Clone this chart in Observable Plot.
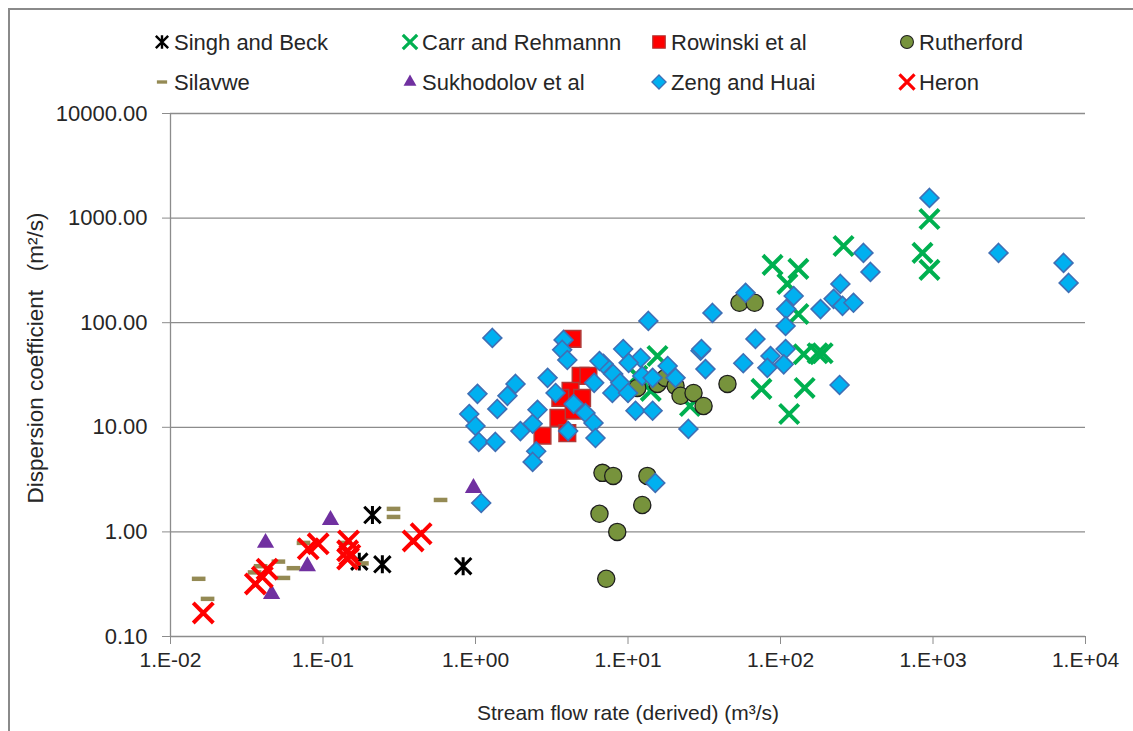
<!DOCTYPE html>
<html><head><meta charset="utf-8">
<script src="https://cdn.jsdelivr.net/npm/d3@7"></script>
<script src="https://cdn.jsdelivr.net/npm/@observablehq/plot@0.6"></script>
<style>
html,body{margin:0;padding:0;background:#fff;overflow:hidden;}
#wrap{position:relative;width:1133px;height:731px;overflow:hidden;}
#frame{position:absolute;left:8px;top:8px;width:1300px;height:900px;border:2px solid #8a8a8a;box-sizing:border-box;}
#chart{position:absolute;left:0;top:0;}
#legend{position:absolute;left:0;top:0;}
</style></head><body>
<div id="wrap"><div id="frame"></div><div id="chart"></div><svg id="legend" width="1133" height="105"></svg></div>
<script>
// ---------------- data ----------------
const xTicks = [0.01, 0.1, 1, 10, 100, 1000, 10000];
const yTicks = [0.1, 1, 10, 100, 1000, 10000];
const xTitle = "Stream flow rate (derived) (m³/s)";
const yTitle = "Dispersion coefficient   (m²/s)";

const seriesNames = ["Singh and Beck", "Carr and Rehmannn", "Rowinski et al", "Rutherford",
                     "Silavwe", "Sukhodolov et al", "Zeng and Huai", "Heron"];

const singhX = [0.173, 0.211, 0.245, 0.83];
const singhY = [0.52, 1.45, 0.49, 0.47];

const carrX = [88.7, 131, 111, 259, 131, 142, 175, 189, 75, 144, 114, 25.5, 15.6, 11.5, 14.1, 948, 853, 948];
const carrY = [357, 327, 235, 542, 121, 50, 51, 51, 23.3, 23.8, 13.4, 16.0, 48, 31, 22.3, 982, 465, 320];

const rowinskiX = [4.33, 4.89, 5.5, 4.2, 5.0, 3.6, 3.5, 2.75, 4.0, 4.4];
const rowinskiY = [70, 31, 31, 22.3, 19.1, 19.1, 12.3, 8.3, 8.8, 14.4];

const rutherfordX = [53.8, 67.6, 11.5, 15.6, 17.6, 20.5, 22.1, 26.9, 31.3, 44.9, 6.8, 8.0, 13.4, 12.4, 6.5, 8.5, 7.2];
const rutherfordY = [155, 155, 23.8, 26, 29.7, 24.9, 20, 21.3, 16, 26, 3.67, 3.43, 3.43, 1.81, 1.49, 1.0, 0.356];

const silavweX = [0.0153, 0.0175, 0.0356, 0.039, 0.051, 0.064, 0.055, 0.0745, 0.14, 0.18, 0.29, 0.29, 0.59];
const silavweY = [0.356, 0.229, 0.41, 0.47, 0.52, 0.45, 0.363, 0.785, 0.785, 0.5, 1.66, 1.39, 2.02];

const sukhodolovX = [0.042, 0.046, 0.079, 0.112, 0.97];
const sukhodolovY = [0.785, 0.255, 0.47, 1.30, 2.63];

const zengX = [1.29, 13.6, 3.78, 3.7, 4.0, 2.97, 3.35, 1.03, 1.83, 1.62, 1.39, 0.91, 1.0, 1.05, 1.35, 1.97, 2.37, 2.55, 2.5, 2.37,
               4.4, 4.05, 5.26, 5.94, 6.12, 6.0, 6.9, 6.5, 8.0, 7.9, 8.9, 9.3, 10.0, 11.2, 14.5, 12.1, 12.4, 18.2, 20.5, 24.9,
               29.9, 15.1, 948, 2690, 7180, 7750, 350, 389, 247, 223, 255, 301, 183, 122, 109, 108, 59, 35.8, 68.5, 108,
               86, 57, 105, 82, 30.3, 32.2, 244, 1.09, 10.1, 14.5];
const zengY = [71.6, 104, 68.5, 55, 44, 29.7, 21.3, 20.9, 26, 20, 15, 13.4, 10.3, 7.25, 7.25, 9.2, 10.8, 14.7, 5.9, 4.67,
               16.7, 9.2, 13.7, 11, 7.9, 26.6, 40.4, 43, 32.4, 21.3, 26.6, 56, 21.3, 14.4, 14.4, 46, 31, 38.6, 29.7, 9.65,
               54, 2.94, 1560, 465, 373, 240, 465, 306, 235, 169, 145, 155, 135, 180, 135, 93, 193, 124, 70, 56,
               48, 41, 40, 37, 56, 36, 25.4, 1.89, 41.3, 29.7];

const heronX = [0.0164, 0.036, 0.040, 0.043, 0.080, 0.093, 0.145, 0.147, 0.145, 0.15, 0.39, 0.44];
const heronY = [0.168, 0.318, 0.37, 0.44, 0.69, 0.77, 0.55, 0.82, 0.66, 0.6, 0.82, 0.96];

// ---------------- styling ----------------
const FONT = "'Liberation Sans Narrow', 'Arial Narrow', 'Liberation Sans', sans-serif";

const starSymbol = {draw(ctx, size) {
  const r = Math.sqrt(size) * 0.63, a = r * 0.92;
  ctx.moveTo(0, -r); ctx.lineTo(0, r);
  ctx.moveTo(-a, -a); ctx.lineTo(a, a);
  ctx.moveTo(-a, a); ctx.lineTo(a, -a);
}};
const dashSymbol = {draw(ctx, size) {
  const s = Math.sqrt(size), w = s * 1.1, h = s * 0.36;
  ctx.rect(-w / 2, -h / 2, w, h);
}};

const styles = {
  "Singh and Beck":    {sym: starSymbol, d3sym: starSymbol, r: 8, fill: "none", stroke: "#000000", sw: 3},
  "Carr and Rehmannn": {sym: "times", d3sym: d3.symbolTimes, r: 8.8, fill: "none", stroke: "#00B050", sw: 4},
  "Rowinski et al":    {sym: "square", d3sym: d3.symbolSquare, r: 9.4, fill: "#FF0000", stroke: "#B03A38", sw: 1.5},
  "Rutherford":        {sym: "circle", d3sym: d3.symbolCircle, r: 8.6, fill: "#77933C", stroke: "#1e1e1e", sw: 1.3},
  "Silavwe":           {sym: dashSymbol, d3sym: dashSymbol, r: 7, fill: "#948A54", stroke: "none", sw: 0},
  "Sukhodolov et al":  {sym: "triangle", d3sym: d3.symbolTriangle, r: 6.4, fill: "#7030A0", stroke: "none", sw: 0},
  "Zeng and Huai":     {sym: "diamond2", d3sym: d3.symbolDiamond2, r: 8.5, fill: "#00B0F0", stroke: "#3F6FB5", sw: 1.6},
  "Heron":             {sym: "times", d3sym: d3.symbolTimes, r: 9.2, fill: "none", stroke: "#FF0000", sw: 4}
};

const seriesData = {
  "Singh and Beck": [singhX, singhY],
  "Carr and Rehmannn": [carrX, carrY],
  "Rowinski et al": [rowinskiX, rowinskiY],
  "Rutherford": [rutherfordX, rutherfordY],
  "Silavwe": [silavweX, silavweY],
  "Sukhodolov et al": [sukhodolovX, sukhodolovY],
  "Zeng and Huai": [zengX, zengY],
  "Heron": [heronX, heronY]
};

const expFmt = v => {
  const e = Math.round(Math.log10(v));
  return "1.E" + (e < 0 ? "-" : "+") + String(Math.abs(e)).padStart(2, "0");
};

const dotMarks = seriesNames.map(name => {
  const [xs, ys] = seriesData[name];
  const rows = xs.map((x, i) => ({x, y: ys[i], series: name}));
  const s = styles[name];
  return Plot.dot(rows, {x: "x", y: "y", symbol: () => s.sym, r: s.r,
    fill: s.fill, stroke: s.stroke, strokeWidth: s.sw, strokeLinecap: "butt"});
});

const chart = Plot.plot({
  width: 1133, height: 731,
  marginLeft: 170, marginRight: 48, marginTop: 113, marginBottom: 95,
  x: {type: "log", domain: [0.01, 10000]},
  y: {type: "log", domain: [0.1, 10000]},
  style: {fontFamily: FONT, fontSize: "20px", color: "#262626", background: "transparent", overflow: "visible"},
  marks: [
    Plot.ruleY(yTicks, {stroke: "#8c8c8c", strokeWidth: 1.3}),
    Plot.ruleX([xTicks[0]], {stroke: "#8c8c8c", strokeWidth: 1.3}),
    Plot.axisY({ticks: yTicks, tickFormat: d3.format(".2f"), tickSize: 8, tickPadding: 15,
      stroke: "#8c8c8c", fill: "#262626", fontSize: 22, label: null}),
    Plot.axisX({ticks: xTicks, tickFormat: expFmt, tickSize: 8, tickPadding: 8,
      stroke: "#8c8c8c", fill: "#262626", fontSize: 21, label: null}),
    Plot.text([yTitle], {frameAnchor: "left", rotate: -90, dx: -135, dy: -17,
      fontSize: 22.5, fill: "#262626", textAnchor: "middle"}),
    Plot.text([xTitle], {frameAnchor: "bottom", dy: 83, fontSize: 21, fill: "#262626", textAnchor: "middle"}),
    ...dotMarks
  ]
});
document.getElementById("chart").appendChild(chart);

// ---------------- legend ----------------
const leg = d3.select("#legend");
const colX = [162, 410, 659, 907];
const rowY = [42, 82];
seriesNames.forEach((name, i) => {
  const s = styles[name];
  const cx = colX[i % 4], cy = rowY[Math.floor(i / 4)];
  const scale = 0.75;
  const size = Math.PI * (s.r * scale) ** 2;
  leg.append("path")
    .attr("transform", `translate(${cx},${cy})`)
    .attr("d", d3.symbol(s.d3sym, size)())
    .attr("fill", s.fill).attr("stroke", s.stroke)
    .attr("stroke-width", s.sw * 0.8);
  leg.append("text")
    .attr("x", cx + 12).attr("y", cy).attr("dy", "0.35em")
    .attr("font-family", FONT).attr("font-size", 22).attr("fill", "#262626")
    .text(name);
});
</script>
</body></html>
